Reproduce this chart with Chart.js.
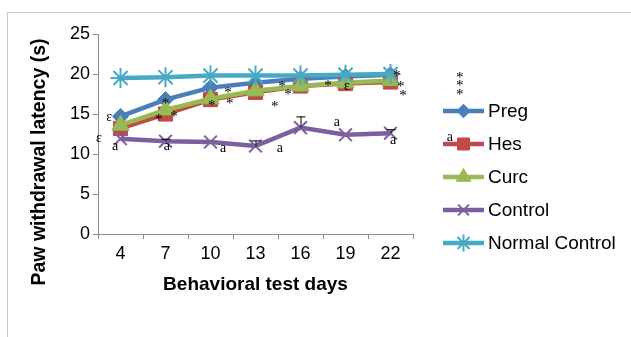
<!DOCTYPE html>
<html>
<head>
<meta charset="utf-8">
<script src="https://cdn.jsdelivr.net/npm/chart.js@4/dist/chart.umd.min.js"></script>
<style>
  html,body{margin:0;padding:0;background:#fff;}
  canvas{display:block;}
</style>
</head>
<body>
<canvas id="c" width="631" height="337"></canvas>
<script>
// ---- data ----
const days = ["4", "7", "10", "13", "16", "19", "22"];
const yTicks = [0, 5, 10, 15, 20, 25];
const seriesNames = ["Preg", "Hes", "Curc", "Control", "Normal Control"];
const preg = [14.7, 16.8, 18.3, 18.9, 19.4, 19.7, 19.9];
const hes = [13.2, 15.0, 16.8, 17.7, 18.5, 18.8, 19.0];
const curc = [13.6, 15.5, 16.9, 17.9, 18.5, 18.9, 19.2];
const control = [11.9, 11.6, 11.5, 11.0, 13.3, 12.4, 12.6];
const normalControl = [19.5, 19.6, 19.8, 19.8, 19.8, 19.9, 20.0];
const controlErr = [0, 0.3, 0, 0.7, 1.4, 0, 0.5];
// significance marks: [category position, value, text]
const marks = [
  [-0.25, 14.6, "ε"], [-0.48, 12.0, "ε"], [-0.12, 10.9, "a"],
  [1.0, 16.6, "*"], [0.85, 14.6, "*"], [1.19, 15.0, "*"],
  [2.03, 16.4, "*"], [2.39, 18.0, "*"], [2.43, 16.6, "*"],
  [1.03, 10.9, "a"], [2.28, 10.75, "a"],
  [3.59, 18.75, "*"], [3.72, 17.75, "*"], [3.43, 16.25, "*"],
  [4.61, 18.9, "*"], [5.03, 18.4, "ε"],
  [6.14, 20.1, "*"], [6.23, 18.75, "*"], [6.28, 17.6, "*"],
  [4.81, 14.0, "a"], [3.54, 10.75, "a"], [6.06, 11.75, "a"],
  [7.54, 19.9, "*"], [7.54, 18.9, "*"], [7.54, 17.75, "*"],
  [7.32, 12.1, "a"]
];

const colors = ["#4A7EBB", "#BE4B48", "#98B954", "#7D5FA0", "#46AAC5"];
const styles = ["rectRot", "rect", "triangle", "crossRot", "star"];
const radii = [8, 10, 10, 9, 10];
const values = [preg, hes, curc, control, normalControl];

const datasets = values.map((v, i) => ({
  label: seriesNames[i],
  data: v,
  borderColor: colors[i],
  backgroundColor: colors[i],
  borderWidth: 4.5,
  pointStyle: styles[i],
  pointRadius: radii[i],
  pointBorderWidth: (styles[i] === "crossRot" || styles[i] === "star") ? 2 : 1,
  pointBorderColor: colors[i],
  pointBackgroundColor: colors[i],
  tension: 0,
  order: 4 - i,
  clip: false
}));

const FONT = "'Liberation Sans', Arial, sans-serif";

const extras = {
  id: "extras",
  beforeDraw(chart) {
    const ctx = chart.ctx;
    ctx.save();
    ctx.strokeStyle = "#C8C8C8";
    ctx.lineWidth = 1;
    ctx.strokeRect(7.5, 12.5, 700, 400);
    ctx.restore();
  },
  afterDatasetsDraw(chart) {
    const ctx = chart.ctx;
    const xs = chart.scales.x, ys = chart.scales.y;
    ctx.save();
    // error bars on Control
    ctx.strokeStyle = "#000";
    ctx.lineWidth = 1;
    controlErr.forEach((e, i) => {
      if (!e) return;
      const x = xs.getPixelForValue(i);
      const y0 = ys.getPixelForValue(control[i]);
      const y1 = ys.getPixelForValue(control[i] + e);
      ctx.beginPath();
      ctx.moveTo(x + 0.5, y0); ctx.lineTo(x + 0.5, y1);
      ctx.moveTo(x - 4, y1 + 0.5); ctx.lineTo(x + 5, y1 + 0.5);
      ctx.stroke();
    });
    // significance marks
    ctx.fillStyle = "#000";
    ctx.textAlign = "center";
    ctx.textBaseline = "middle";
    const step = xs.getPixelForValue(1) - xs.getPixelForValue(0);
    marks.forEach(([p, v, t]) => {
      const x = xs.getPixelForValue(0) + p * step;
      const y = ys.getPixelForValue(v);
      ctx.font = (t === "*" ? "15px " : "14px ") + "'Liberation Serif', 'Times New Roman', serif";
      ctx.fillText(t, x, t === "*" ? y + 3 : y);
    });
    // axis titles
    const ca = chart.chartArea;
    ctx.font = "bold 19px " + FONT;
    ctx.fillText("Behavioral test days", (ca.left + ca.right) / 2, 285);
    ctx.save();
    ctx.translate(40, 162);
    ctx.rotate(-Math.PI / 2);
    ctx.font = "bold 19.5px " + FONT;
    ctx.fillText("Paw withdrawal latency (s)", 0, 0);
    ctx.restore();
    // legend
    const lx0 = 443, lx1 = 484, ly0 = 111, lstep = 33;
    ctx.textAlign = "left";
    ctx.font = "19px " + FONT;
    seriesNames.forEach((name, i) => {
      const y = ly0 + i * lstep;
      ctx.strokeStyle = colors[i];
      ctx.lineWidth = 4.5;
      ctx.beginPath();
      ctx.moveTo(lx0, y); ctx.lineTo(lx1, y);
      ctx.stroke();
      ctx.fillStyle = colors[i];
      ctx.lineWidth = (styles[i] === "crossRot" || styles[i] === "star") ? 2 : 1;
      Chart.helpers.drawPoint(ctx, {
        pointStyle: styles[i], rotation: 0, radius: radii[i] * 0.85,
        borderWidth: ctx.lineWidth
      }, (lx0 + lx1) / 2, y);
      ctx.fillStyle = "#000";
      ctx.fillText(name, 488, y + 1);
    });
    ctx.restore();
  }
};

new Chart(document.getElementById("c"), {
  type: "line",
  data: { labels: days, datasets },
  options: {
    responsive: false,
    animation: false,
    layout: { padding: { left: 0, right: 218, top: 34, bottom: 0 } },
    plugins: { legend: { display: false }, tooltip: { enabled: false } },
    scales: {
      x: {
        type: "category",
        offset: true,
        afterFit(s) { s.height = 337 - 234; },
        border: { color: "#8C8C8C", width: 1 },
        grid: { offset: true, drawOnChartArea: false, drawTicks: true, tickLength: 5, color: "#8C8C8C" },
        ticks: { color: "#000", font: { family: FONT, size: 18 }, padding: 4, maxRotation: 0 },
        title: { display: false }
      },
      y: {
        min: 0, max: 25,
        afterFit(s) { s.width = 98; },
        afterBuildTicks(s) { s.ticks = yTicks.map(v => ({ value: v })); },
        border: { color: "#8C8C8C", width: 1 },
        grid: { drawOnChartArea: false, drawTicks: true, tickLength: 5, color: "#8C8C8C" },
        ticks: { color: "#000", font: { family: FONT, size: 18 }, padding: 3 },
        title: { display: false }
      }
    }
  },
  plugins: [extras]
});
</script>
</body>
</html>
